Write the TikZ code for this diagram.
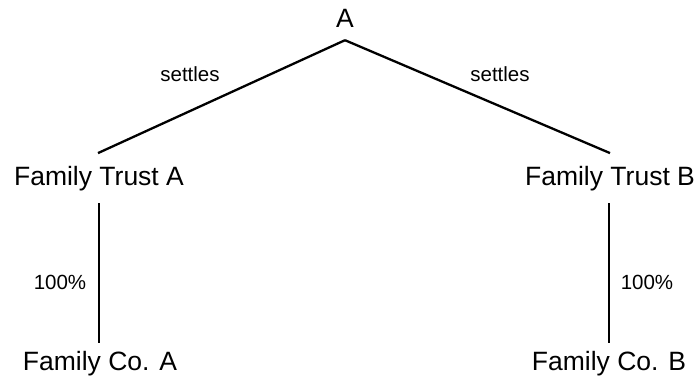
\documentclass[tikz,border=0pt]{standalone}
\usepackage{fontspec}
\setmainfont{Liberation Sans}
\begin{document}
\begin{tikzpicture}[x=1pt,y=-1pt,
  entity/.style={inner sep=0pt,anchor=base,font=\fontsize{26.5}{31}\selectfont},
  tag/.style={inner sep=0pt,anchor=base,font=\fontsize{20.5}{24}\selectfont},
  link/.style={line width=2.3pt,black}]
\useasboundingbox (0,0) rectangle (694,379);

% parties
\node[entity] (A)   at (345,28)  {A};
\node[entity] (TA)  at (99,186)  {Family Trust A};
\node[entity] (TB)  at (610,186) {Family Trust B};
\node[entity] (CA)  at (100,371) {Family Co. A};
\node[entity] (CB)  at (609,371) {Family Co. B};

% settlement lines
\draw[link] ([yshift=-12pt]A.south) -- ([xshift=-1pt,yshift=13.5pt]TA.north);
\draw[link] ([yshift=-12pt]A.south) -- ([yshift=13.5pt]TB.north);

% ownership lines
\draw[link] ([yshift=-11.5pt]TA.south) -- ([yshift=9pt]TA.south |- CA.north);
\draw[link] ([xshift=-1pt,yshift=-11.5pt]TB.south) -- ([xshift=-1pt,yshift=9pt]TB.south |- CB.north);

% labels
\node[tag] (s1) at (190,82)  {settles};
\node[tag] (s2) at (500,82)  {settles};
\node[tag] (p1) at (60,290)  {100\%};
\node[tag] (p2) at (647,290) {100\%};
\end{tikzpicture}
\end{document}
